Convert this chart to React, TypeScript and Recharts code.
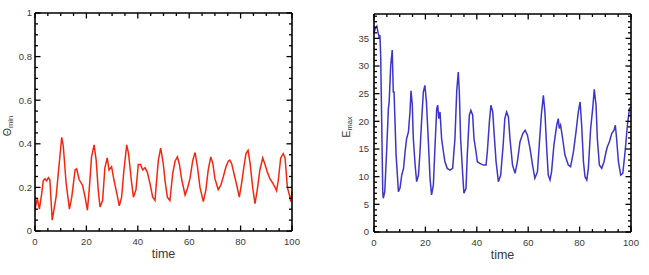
import { LineChart, Line, XAxis, YAxis, Label } from "recharts"

// theta_min(t)
const thetaMin: [number, number][] = [
  [0, 0.1], [0.9, 0.15], [1.7, 0.1], [2.6, 0.17], [3.2, 0.23], [3.9, 0.24], [4.5, 0.23], [5.2, 0.245],
  [5.8, 0.235], [6.2, 0.15], [6.7, 0.05], [8.2, 0.155], [9.1, 0.27], [10.4, 0.43], [11.0, 0.39],
  [12.1, 0.22], [13.4, 0.1], [14.3, 0.155], [15.6, 0.28], [16.2, 0.285], [17.2, 0.235], [18.5, 0.21],
  [19.5, 0.155], [20.4, 0.095], [21.1, 0.19], [22.0, 0.34], [23.0, 0.395], [23.8, 0.325], [24.6, 0.19],
  [25.3, 0.11], [26.3, 0.14], [27.2, 0.29], [28.1, 0.335], [28.8, 0.28], [29.8, 0.295], [30.7, 0.235],
  [31.8, 0.175], [32.8, 0.115], [33.7, 0.155], [34.6, 0.28], [35.7, 0.395], [36.4, 0.355], [37.6, 0.22],
  [38.3, 0.155], [39.3, 0.19], [40.2, 0.305], [41.1, 0.305], [41.9, 0.28], [42.8, 0.29], [43.7, 0.27],
  [44.7, 0.22], [45.8, 0.155], [46.7, 0.14], [47.1, 0.2], [48.0, 0.325], [48.9, 0.38], [49.9, 0.31],
  [50.6, 0.23], [51.5, 0.155], [52.5, 0.14], [53.6, 0.265], [54.5, 0.32], [55.4, 0.34], [56.2, 0.305],
  [57.1, 0.235], [58.4, 0.165], [59.3, 0.195], [60.3, 0.24], [61.4, 0.325], [62.3, 0.36], [63.2, 0.295],
  [64.2, 0.2], [65.5, 0.135], [66.5, 0.19], [67.4, 0.28], [68.4, 0.34], [69.2, 0.31], [70.0, 0.24],
  [71.3, 0.19], [72.3, 0.21], [73.3, 0.25], [74.3, 0.295], [75.2, 0.32], [75.8, 0.325], [76.5, 0.31],
  [77.4, 0.265], [78.5, 0.21], [79.5, 0.155], [80.4, 0.22], [81.3, 0.295], [82.1, 0.355], [82.9, 0.37],
  [83.7, 0.31], [84.7, 0.2], [85.6, 0.125], [86.5, 0.19], [87.5, 0.28], [88.6, 0.335], [89.5, 0.305],
  [90.4, 0.27], [91.4, 0.24], [92.5, 0.22], [93.4, 0.2], [94.0, 0.185], [94.7, 0.235], [95.6, 0.335],
  [96.6, 0.355], [97.3, 0.335], [98.2, 0.2], [99.0, 0.165], [99.5, 0.135], [100, 0.18],
]

// E_max(t)
const eMax: [number, number][] = [
  [0, 36.0], [0.5, 36.8], [1.1, 37.2], [1.6, 36.0], [2.1, 35.0], [2.3, 35.6], [2.6, 31.9], [3.0, 19.9],
  [3.4, 7.3], [3.6, 6.1], [4.2, 7.3], [4.9, 14.5], [5.6, 22.3], [5.9, 23.5], [6.5, 30.1], [7.1, 32.9],
  [7.5, 25.3], [7.8, 25.3], [8.6, 13.9], [9.5, 7.3], [10.1, 7.9], [10.8, 10.3], [11.5, 11.5], [12.1, 14.5],
  [12.7, 16.9], [13.4, 18.1], [14.0, 21.7], [14.4, 25.5], [14.9, 23.0], [15.3, 16.9], [16.0, 12.1],
  [16.6, 9.1], [17.3, 10.3], [17.9, 14.5], [18.5, 19.9], [19.2, 25.3], [19.8, 26.5], [20.4, 23.5],
  [21.1, 16.9], [21.8, 9.7], [22.4, 6.7], [23.1, 8.5], [23.7, 15.1], [24.4, 22.3], [24.8, 22.9],
  [25.2, 20.5], [25.7, 21.7], [26.3, 16.9], [27.0, 14.5], [27.6, 12.7], [28.5, 11.5], [29.6, 11.2],
  [30.6, 11.5], [31.5, 16.9], [32.2, 25.6], [32.8, 28.9], [33.2, 25.3], [33.7, 16.9], [34.6, 9.7],
  [35.0, 7.0], [35.8, 7.9], [36.3, 13.9], [37.1, 21.1], [37.7, 22.0], [38.4, 21.1], [38.9, 16.9],
  [39.7, 14.5], [40.2, 12.7], [41.2, 12.4], [42.5, 12.1], [43.6, 12.1], [44.1, 14.5], [44.9, 19.9],
  [45.5, 22.9], [46.2, 21.7], [46.7, 18.1], [47.5, 12.7], [48.4, 9.1], [49.3, 10.3], [50.3, 16.0],
  [50.9, 20.5], [51.6, 21.7], [52.3, 20.8], [52.9, 16.9], [53.9, 12.1], [54.9, 10.6], [55.8, 12.7],
  [56.8, 16.3], [57.9, 17.8], [58.8, 18.4], [59.7, 17.5], [60.7, 15.1], [61.7, 12.1], [62.6, 9.7],
  [63.6, 10.9], [64.3, 15.7], [65.1, 21.1], [65.9, 24.7], [66.5, 21.7], [67.2, 15.1], [67.8, 10.3],
  [68.5, 9.4], [69.1, 10.9], [70.0, 15.7], [71.1, 19.3], [71.7, 20.5], [72.1, 18.7], [72.6, 19.3],
  [73.4, 16.9], [74.3, 13.9], [75.6, 12.1], [76.5, 11.8], [77.6, 14.5], [78.6, 18.1], [79.5, 21.7],
  [80.2, 23.5], [80.8, 19.3], [81.5, 12.7], [82.1, 10.0], [82.8, 9.4], [83.4, 11.5], [84.3, 18.7],
  [85.1, 22.3], [85.7, 25.8], [86.4, 22.9], [86.9, 16.9], [87.7, 12.1], [88.6, 11.5], [89.5, 12.7],
  [90.3, 14.5], [90.8, 15.4], [91.6, 16.3], [92.5, 17.8], [93.4, 18.4], [93.9, 19.3], [94.4, 16.9],
  [95.1, 12.7], [96.0, 10.3], [96.8, 10.6], [97.7, 14.5], [98.6, 19.3], [99.4, 22.3], [100, 22.6],
]

const timeMajor = [0, 20, 40, 60, 80, 100]
const timeMinor = Array.from({ length: 21 }, (_, i) => i * 5)
const thetaMajor = [0, 0.2, 0.4, 0.6, 0.8, 1]
const thetaLabels = ["0", "0.2", "0.4", "0.6", "0.8", "1"]
const thetaMinor = Array.from({ length: 21 }, (_, i) => +(i * 0.05).toFixed(2))
const eMajor = [0, 5, 10, 15, 20, 25, 30, 35]
const eMinor = Array.from({ length: 40 }, (_, i) => i)

const FONT = "'Liberation Sans', Arial, Helvetica, sans-serif"
const TEXT = "#3a3a3a"

const isMajor = (v: number, majors: number[]) => majors.some((m) => Math.abs(m - v) < 1e-6)

// side: which edge of the plot the tick sits on; ticks point inward
function makeTick(side: "bottom" | "top" | "left" | "right", majors: number[], labels?: (v: number) => string | null, gap = 3) {
  return (props: any) => {
    const { x, y, payload } = props
    const major = isMajor(payload.value, majors)
    const len = major ? 5.5 : 3
    let x2 = x
    let y2 = y
    if (side === "bottom") y2 = y - len
    if (side === "top") y2 = y + len
    if (side === "left") x2 = x + len
    if (side === "right") x2 = x - len
    const text = labels ? labels(payload.value) : null
    return (
      <g>
        <line x1={x} y1={y} x2={x2} y2={y2} stroke="#000" strokeWidth={1.3} />
        {text != null && side === "bottom" && (
          <text x={x} y={y + 13.5} textAnchor="middle" fontSize={9.5} fill={TEXT} fontFamily={FONT}>
            {text}
          </text>
        )}
        {text != null && side === "left" && (
          <text x={x - gap} y={y + 3.3} textAnchor="end" fontSize={9.5} fill={TEXT} fontFamily={FONT}>
            {text}
          </text>
        )}
      </g>
    )
  }
}

function yTitle(main: string, sub: string, dx: number) {
  return (props: any) => {
    const vb = props.viewBox || {}
    const cx = (vb.x ?? 0) + (vb.width ?? 0) - dx
    const cy = (vb.y ?? 0) + (vb.height ?? 0) / 2 + 4
    return (
      <text
        x={cx}
        y={cy}
        transform={`rotate(-90 ${cx} ${cy})`}
        textAnchor="middle"
        fontSize={10.5}
        fill={TEXT}
        fontFamily={FONT}
      >
        {main}
        <tspan fontSize={7.5} dy={2}>{sub}</tspan>
      </text>
    )
  }
}

const timeLabel = (v: number) => (isMajor(v, timeMajor) ? String(v) : null)
const axisLine = { stroke: "#000", strokeWidth: 1.6 }

function Panel(props: {
  data: { t: number; v: number }[]
  color: string
  yDomain: [number, number]
  yMajor: number[]
  yMinor: number[]
  yLabel: (v: number) => string | null
  yGap: number
  title: [string, string]
  titleDx: number
  width: number
  margin: { top: number; right: number; bottom: number; left: number }
}) {
  const { data, color, yDomain, yMajor, yMinor, yLabel, yGap, title, titleDx, width, margin } = props
  return (
    <LineChart width={width} height={275} data={data} margin={margin}>
      <XAxis
        xAxisId="b"
        dataKey="t"
        type="number"
        domain={[0, 100]}
        ticks={timeMinor}
        interval={0}
        height={30}
        tickSize={0}
        tickMargin={0}
        tickLine={false}
        axisLine={axisLine}
        tick={makeTick("bottom", timeMajor, timeLabel)}
      >
        <Label
          value="time"
          position="insideBottom"
          offset={3}
          style={{ fontSize: 12.5, fill: TEXT, fontFamily: FONT }}
        />
      </XAxis>
      <XAxis
        xAxisId="t"
        orientation="top"
        dataKey="t"
        type="number"
        domain={[0, 100]}
        ticks={timeMinor}
        interval={0}
        height={1}
        tickSize={0}
        tickMargin={0}
        tickLine={false}
        axisLine={axisLine}
        tick={makeTick("top", timeMajor)}
      />
      <YAxis
        yAxisId="l"
        type="number"
        domain={yDomain}
        ticks={yMinor}
        interval={0}
        width={30}
        tickSize={0}
        tickMargin={0}
        tickLine={false}
        axisLine={axisLine}
        allowDataOverflow
        tick={makeTick("left", yMajor, yLabel, yGap)}
      >
        <Label content={yTitle(title[0], title[1], titleDx)} />
      </YAxis>
      <YAxis
        yAxisId="r"
        orientation="right"
        type="number"
        domain={yDomain}
        ticks={yMinor}
        interval={0}
        width={1}
        tickSize={0}
        tickMargin={0}
        tickLine={false}
        axisLine={axisLine}
        allowDataOverflow
        tick={makeTick("right", yMajor)}
      />
      <Line
        xAxisId="b"
        yAxisId="l"
        type="linear"
        dataKey="v"
        stroke={color}
        strokeWidth={1.5}
        dot={false}
        isAnimationActive={false}
      />
    </LineChart>
  )
}

export default function App() {
  const leftData = thetaMin.map(([t, v]) => ({ t, v }))
  const rightData = eMax.map(([t, v]) => ({ t, v }))
  return (
    <div style={{ position: "absolute", left: 0, top: 0, width: 649, height: 275, background: "#fff" }}>
      <div style={{ position: "absolute", left: 0, top: 0 }}>
        <Panel
          data={leftData}
          color="#f2280c"
          yDomain={[0, 1]}
          yMajor={thetaMajor}
          yMinor={thetaMinor}
          yLabel={(v) => {
            const i = thetaMajor.findIndex((m) => Math.abs(m - v) < 1e-6)
            return i >= 0 ? thetaLabels[i] : null
          }}
          yGap={3}
          title={["Θ", "min"]}
          titleDx={24}
          width={320}
          margin={{ top: 12, right: 27, bottom: 14, left: 5 }}
        />
      </div>
      <div style={{ position: "absolute", left: 330, top: 0 }}>
        <Panel
          data={rightData}
          color="#3b36c8"
          yDomain={[0, 39.4]}
          yMajor={eMajor}
          yMinor={eMinor}
          yLabel={(v) => (isMajor(v, eMajor) ? String(v) : null)}
          yGap={5}
          title={["E", "max"]}
          titleDx={24}
          width={319}
          margin={{ top: 13, right: 17, bottom: 13, left: 14 }}
        />
      </div>
    </div>
  )
}
